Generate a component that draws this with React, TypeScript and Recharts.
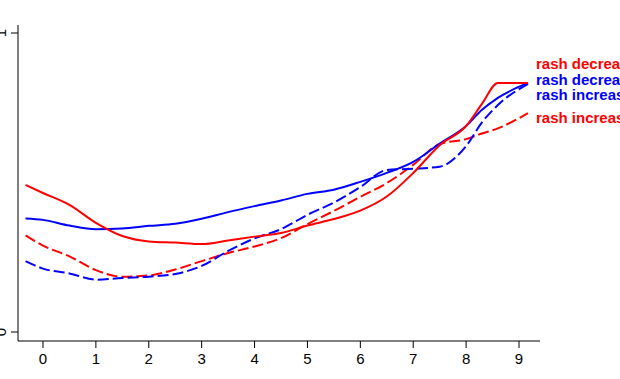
import React from "react";
import { LineChart, Line, XAxis, YAxis } from "recharts";

const xs = [-0.33, 0, 0.5, 1, 1.5, 2, 2.5, 3, 3.5, 4, 4.5, 5, 5.5, 6, 6.5, 7, 7.5, 8, 8.3, 8.6, 9.17];

const redDecrease = [0.492, 0.465, 0.425, 0.365, 0.321, 0.303, 0.299, 0.294, 0.306, 0.319, 0.331, 0.356, 0.378, 0.406, 0.453, 0.532, 0.625, 0.689, 0.763, 0.833, 0.833];
const blueDecrease = [0.380, 0.375, 0.356, 0.344, 0.346, 0.355, 0.362, 0.379, 0.401, 0.421, 0.440, 0.462, 0.476, 0.502, 0.532, 0.569, 0.630, 0.689, 0.743, 0.783, 0.833];
const redIncrease = [0.323, 0.289, 0.253, 0.207, 0.185, 0.189, 0.209, 0.237, 0.264, 0.286, 0.314, 0.361, 0.405, 0.452, 0.498, 0.559, 0.629, 0.645, 0.664, 0.681, 0.732];
const blueIncrease = [0.237, 0.212, 0.196, 0.175, 0.181, 0.185, 0.194, 0.221, 0.271, 0.313, 0.344, 0.392, 0.433, 0.485, 0.542, 0.546, 0.553, 0.622, 0.701, 0.759, 0.830];

const xTicks = [0, 1, 2, 3, 4, 5, 6, 7, 8, 9];
const yTicks = [0, 1];

const seriesNames = ["rash decrease", "rash decrease", "rash increase", "rash increase"];

const data = xs.map((x, i) => ({
  x,
  rd: redDecrease[i],
  bd: blueDecrease[i],
  bi: blueIncrease[i],
  ri: redIncrease[i],
}));

const last = xs.length - 1;
const FONT = "'Liberation Sans', Arial, sans-serif";

const makeLabel = (text: string, color: string, dy: number) => (props: any) => {
  if (props.index !== last) return <g />;
  return (
    <text
      x={props.x + 8}
      y={props.y + dy}
      fill={color}
      fontSize={15}
      fontWeight="bold"
      fontFamily={FONT}
      textAnchor="start"
    >
      {text}
    </text>
  );
};

const YTick = (p: any) => (
  <g>
    <text
      transform={`translate(5.5,${p.y}) rotate(-90)`}
      textAnchor="middle"
      fontSize={15}
      fill="#000"
      fontFamily={FONT}
    >
      {p.payload.value}
    </text>
  </g>
);

export default function App() {
  return (
    <div style={{ position: "absolute", left: 0, top: 0, width: 620, height: 379, background: "#fff" }}>
      <LineChart width={620} height={379} data={data} margin={{ top: 25, right: 80, left: 0, bottom: 0 }}>
        <XAxis
          dataKey="x"
          type="number"
          domain={[-0.4726, 9.397]}
          ticks={xTicks}
          height={38}
          tickSize={7}
          tickMargin={5}
          axisLine={{ stroke: "#000", strokeWidth: 1 }}
          tickLine={{ stroke: "#000", strokeWidth: 1 }}
          tick={{ fill: "#000", fontSize: 15, fontFamily: FONT }}
          allowDataOverflow
        />
        <YAxis
          type="number"
          domain={[-0.0301, 1.0268]}
          ticks={yTicks}
          width={18}
          tickSize={7}
          axisLine={{ stroke: "#000", strokeWidth: 1 }}
          tickLine={{ stroke: "#000", strokeWidth: 1 }}
          tick={<YTick />}
          allowDataOverflow
        />
        <Line dataKey="ri" type="monotone" stroke="#ff0000" strokeWidth={2} strokeDasharray="11 4" dot={false} activeDot={false} isAnimationActive={false} label={makeLabel(seriesNames[3], "#ff0000", 10)} />
        <Line dataKey="bi" type="monotone" stroke="#0000ff" strokeWidth={2} strokeDasharray="11 4" dot={false} activeDot={false} isAnimationActive={false} label={makeLabel(seriesNames[2], "#0000ff", 16)} />
        <Line dataKey="bd" type="monotone" stroke="#0000ff" strokeWidth={2} dot={false} activeDot={false} isAnimationActive={false} label={makeLabel(seriesNames[1], "#0000ff", 2)} />
        <Line dataKey="rd" type="monotone" stroke="#ff0000" strokeWidth={2} dot={false} activeDot={false} isAnimationActive={false} label={makeLabel(seriesNames[0], "#ff0000", -14)} />
      </LineChart>
    </div>
  );
}
